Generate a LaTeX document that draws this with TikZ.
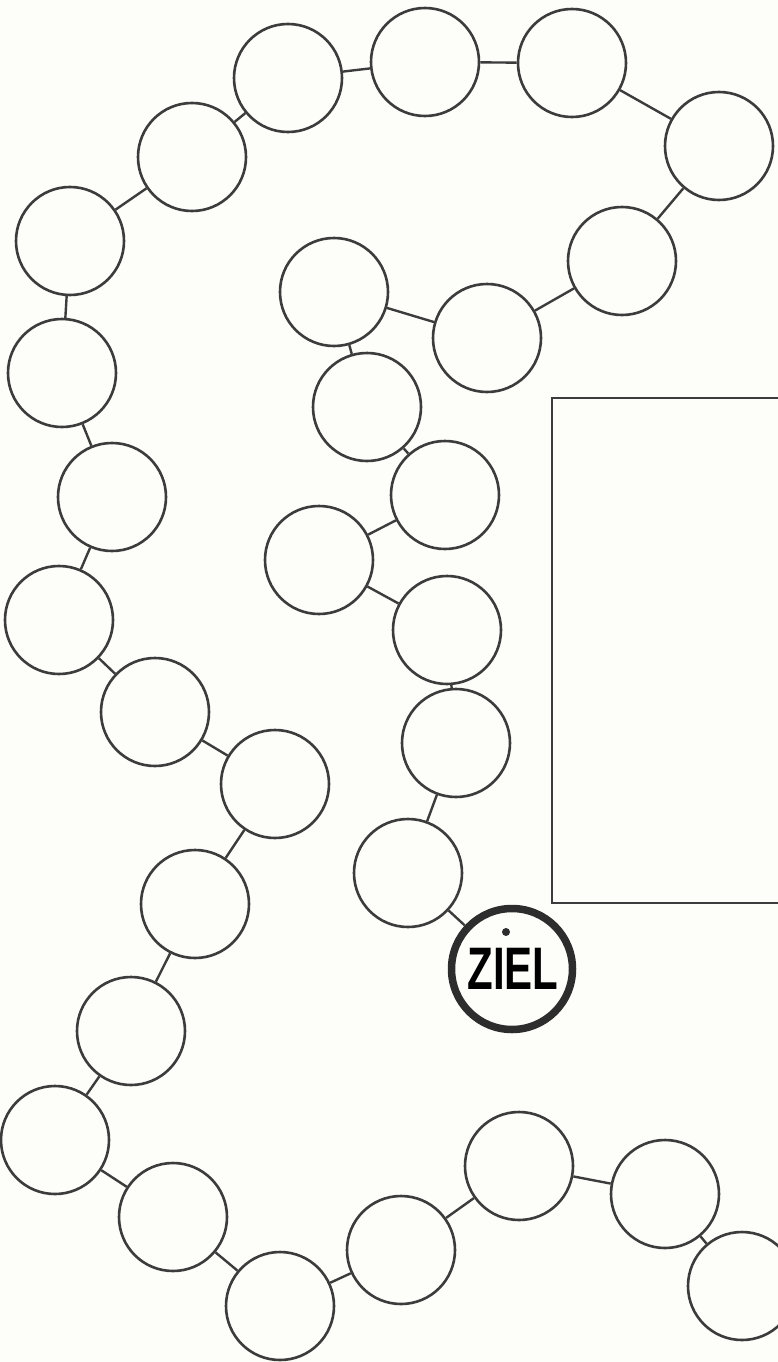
\documentclass[tikz,border=0pt]{standalone}
\usepackage{fontspec}
\usepackage{graphicx}
\setmainfont{Liberation Sans}
\definecolor{ink}{RGB}{60,60,60}
\definecolor{paper}{RGB}{253,253,249}
\tikzset{
  field/.style={circle,draw=ink,line width=2.6pt,minimum size=108pt,inner sep=0pt},
  goal/.style={circle,draw=ink!75!black,line width=7.5pt,minimum size=121pt,inner sep=0pt},
  link/.style={draw=ink,line width=2.4pt},
  board/.style={draw=ink,line width=2.8pt}
}
\begin{document}
\begin{tikzpicture}[x=1pt,y=-1pt]
\fill[paper] (0,0) rectangle (778,1362);
\useasboundingbox (0,0) rectangle (778,1362);
\clip (0,0) rectangle (778,1362);
% box
\coordinate (bt) at (778,398);
\coordinate (bb) at (778,903);
\coordinate (btl) at (552,398);
\coordinate (bbl) at (552,903);
\draw[board] (bt) -- (btl) -- (bbl) -- (bb);
% inner chain
\node[field] (t1) at (288,78) {};
\node[field] (t2) at (425,62) {};
\node[field] (t3) at (572,63) {};
\node[field] (t4) at (719,146) {};
\node[field] (t5) at (622,261) {};
\node[field] (t6) at (487,338) {};
\node[field] (t7) at (334,292) {};
\node[field] (t8) at (367,407) {};
\node[field] (t9) at (445,495) {};
\node[field] (t10) at (319,560) {};
\node[field] (t11) at (447,630) {};
\node[field] (t12) at (456,743) {};
\node[field] (t13) at (408,873) {};
\node[goal] (ziel) at (512,969) {};
\node at (513,969) {\fontsize{60}{60}\selectfont\bfseries\scalebox{0.7}[1]{ZIEL}};
\fill[ink!75!black] (506,932) circle (4);
% outer chain
\node[field] (a) at (192,157) {};
\node[field] (b) at (70,241) {};
\node[field] (c) at (62,373) {};
\node[field] (d) at (112,497) {};
\node[field] (e) at (59,620) {};
\node[field] (f) at (155,712) {};
\node[field] (g) at (275,784) {};
\node[field] (h) at (195,904) {};
\node[field] (i) at (131,1031) {};
\node[field] (j) at (55,1140) {};
\node[field] (k) at (173,1217) {};
\node[field] (l) at (280,1306) {};
\node[field] (m) at (401,1250) {};
\node[field] (n) at (519,1166) {};
\node[field] (o) at (665,1194) {};
\node[field] (p) at (742,1286) {};
% links
\foreach \u/\v in {a/t1,t1/t2,t2/t3,t3/t4,t4/t5,t5/t6,t6/t7,t7/t8,t8/t9,t9/t10,t10/t11,t11/t12,t12/t13,t13/ziel,
  a/b,b/c,c/d,d/e,e/f,f/g,g/h,h/i,i/j,j/k,k/l,l/m,m/n,n/o,o/p}
  \draw[link] (\u) -- (\v);
\end{tikzpicture}
\end{document}
